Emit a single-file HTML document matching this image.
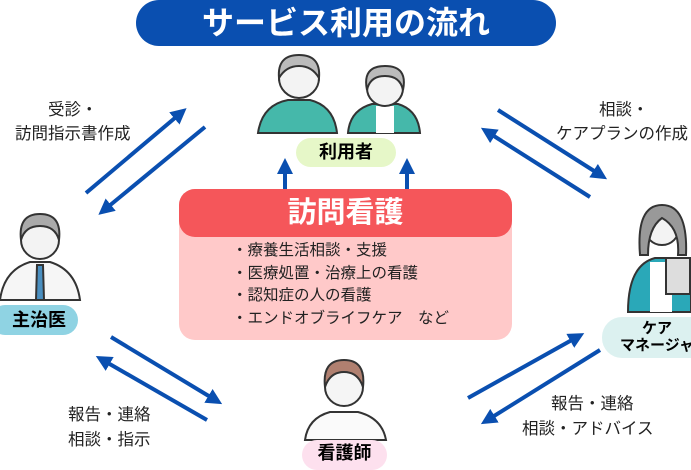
<!DOCTYPE html>
<html><head><meta charset="utf-8"><style>
body{margin:0;width:691px;height:460px;overflow:hidden;background:#fff;font-family:"Liberation Sans","Noto Sans CJK JP",sans-serif;position:relative}
.a{position:absolute;white-space:nowrap}
.lbl{font-size:16.5px;color:#222}
</style></head><body>
<svg class="a" style="left:0;top:0" width="691" height="460">
<defs><marker id="m" markerWidth="4" markerHeight="4" refX="2.5" refY="2" orient="auto"><path d="M0,0L4,2L0,4z" fill="#0a4fb0"/></marker></defs>
<g stroke="#0a4fb0" stroke-width="4" marker-end="url(#m)" fill="none">
<line x1="86" y1="193" x2="182" y2="112"/><line x1="205" y1="127" x2="103" y2="211"/>
<line x1="498" y1="110" x2="602" y2="176"/><line x1="590" y1="197" x2="486" y2="131"/>
<line x1="111" y1="337" x2="217" y2="401"/><line x1="207" y1="420" x2="101" y2="359"/>
<line x1="468" y1="398" x2="579" y2="336"/><line x1="600" y1="350" x2="486" y2="421"/>
<line x1="285" y1="190" x2="285" y2="164"/><line x1="407" y1="190" x2="407" y2="164"/>
</g>
<g stroke="#333" stroke-width="2">
<path d="M258,133 Q262,105 288,100 L310,100 Q334,106 337,133Z" fill="#45b8aa"/>
<circle cx="299" cy="78" r="20" fill="#f3f3f3"/>
<path d="M279,78 Q277,55 299,55 Q321,55 319,78 Q312,66 299,66 Q286,66 279,78Z" fill="#bbb"/>
<path d="M348,133 Q350,110 372,104 L398,104 Q418,110 420,133Z" fill="#45b8aa"/>
<rect x="376" y="106" width="18" height="27" fill="#fff" stroke="none"/>
<circle cx="385" cy="88" r="18" fill="#f3f3f3"/>
<path d="M367,90 Q362,66 385,66 Q408,66 403,90 Q400,76 385,76 Q370,76 367,90Z" fill="#bbb"/>
<path d="M0,300 Q4,270 30,262 L50,262 Q76,270 80,300Z" fill="#f6f6f6"/>
<path d="M37,265 L43,265 L44,300 L36,300Z" fill="#4a8fc0"/>
<circle cx="40" cy="240" r="19" fill="#f3f3f3"/>
<path d="M21,240 Q18,214 40,214 Q62,214 59,240 Q55,226 40,226 Q25,226 21,240Z" fill="#aaa"/>
<path d="M628,312 Q628,265 655,258 L680,258 Q691,262 691,300 L691,312Z" fill="#2aa8b8"/>
<rect x="650" y="262" width="22" height="50" fill="#fff" stroke="none"/>
<circle cx="662" cy="228" r="17" fill="#f3f3f3"/>
<path d="M640,255 Q636,205 662,205 Q688,205 686,255 L678,255 Q680,228 662,218 Q648,228 648,255Z" fill="#999"/>
<rect x="666" y="258" width="24" height="36" fill="#ddd"/>
<path d="M305,440 Q308,418 330,412 L358,412 Q382,418 386,440Z" fill="#fafafa"/>
<circle cx="344" cy="387" r="19" fill="#f5f5f5"/>
<path d="M325,387 Q322,360 344,360 Q366,360 363,387 Q358,372 344,372 Q330,372 325,387Z" fill="#b08070"/>
</g>
</svg>
<div class="a" style="left:136px;top:0;width:420px;height:46px;background:#0a4fb0;border-radius:23px;color:#fff;font-size:32px;font-weight:bold;text-align:center;line-height:46px">サービス利用の流れ</div>
<div class="a" style="left:296px;top:138px;width:100px;height:29px;background:#e6f7c8;border-radius:15px;text-align:center;line-height:29px;font-size:18px;font-weight:bold">利用者</div>
<div class="a" style="left:-10px;top:305px;width:88px;height:30px;background:#8fd3e3;border-radius:15px;text-align:center;line-height:30px;font-size:18px;font-weight:bold">&nbsp;&nbsp;主治医</div>
<div class="a" style="left:602px;top:317px;width:110px;height:41px;background:#dcf1f0;border-radius:20px;text-align:center;line-height:17px;font-size:15px;font-weight:bold;padding-top:3px;box-sizing:border-box">ケア<br>マネージャ</div>
<div class="a" style="left:302px;top:440px;width:85px;height:30px;background:#fde0ee;border-radius:15px;text-align:center;line-height:26px;font-size:18px;font-weight:bold">看護師</div>
<div class="a" style="left:179px;top:189px;width:333px;height:151px;background:#ffc9c9;border-radius:16px;overflow:hidden">
<div style="height:48px;background:#f5565a;border-radius:0 0 16px 16px;color:#fff;font-size:29px;font-weight:bold;text-align:center;line-height:48px">訪問看護</div>
<div style="padding:3px 0 0 53px;font-size:15.5px;line-height:22.5px;color:#222">・療養生活相談・支援<br>・医療処置・治療上の看護<br>・認知症の人の看護<br>・エンドオブライフケア　など</div>
</div>
<div class="a lbl" style="left:48px;top:96px">受診・</div>
<div class="a lbl" style="left:15px;top:120px">訪問指示書作成</div>
<div class="a lbl" style="left:599px;top:96px">相談・</div>
<div class="a lbl" style="left:556px;top:120px">ケアプランの作成</div>
<div class="a lbl" style="left:68px;top:401px">報告・連絡</div>
<div class="a lbl" style="left:68px;top:426px">相談・指示</div>
<div class="a lbl" style="left:551px;top:390px">報告・連絡</div>
<div class="a lbl" style="left:522px;top:415px">相談・アドバイス</div>
</body></html>
